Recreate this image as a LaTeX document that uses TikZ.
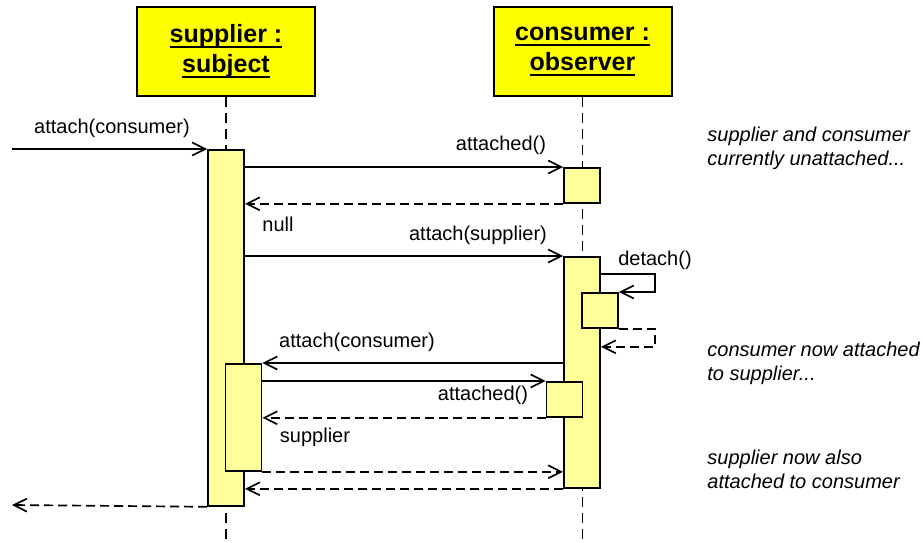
\documentclass[tikz,border=0pt]{standalone}
\usepackage{fontspec}
\setmainfont{Liberation Sans}
\usetikzlibrary{arrows.meta}
\definecolor{headfill}{RGB}{255,255,0}
\definecolor{barfill}{RGB}{255,255,153}
\newcommand{\hdline}[1]{\setbox0=\hbox{#1}\rlap{\copy0}\rule[-2.6pt]{\wd0}{1pt}}
\tikzset{
  head/.style={draw, fill=headfill, line width=1pt, minimum width=89pt, minimum height=44.5pt, align=center, font=\bfseries\fontsize{12.5}{15}\selectfont},
  bar/.style={draw, fill=barfill, line width=0.9pt, minimum width=18pt, inner sep=0pt, anchor=north},
  life/.style={line width=0.8pt, dash pattern=on 5pt off 3pt},
  call/.style={line width=0.85pt, -{Straight Barb[length=6.5pt,width=6.5pt]}},
  reply/.style={call, dash pattern=on 4.5pt off 2.5pt},
  msg/.style={font=\fontsize{10}{12}\selectfont},
  note/.style={font=\itshape\fontsize{10}{12}\selectfont, align=left, anchor=west, inner sep=0pt}
}
\begin{document}
\begin{tikzpicture}[x=0.5pt, y=-0.5pt]
\useasboundingbox (0,0) rectangle (923,542);

% objects and lifelines
\node[head] (sup) at (226,51.5) {\hdline{supplier :}\\\hdline{subject}};
\node[head] (con) at (582.5,51.5) {\hdline{consumer :}\\\hdline{observer}};
\coordinate (bot) at (0,542);
\draw[life] (sup.south) -- (sup.south |- bot);
\draw[life] (con.south) -- (con.south |- bot);

% activations
\node[bar, minimum height=178pt] (sa) at (226,149) {};
\node[bar, minimum height=17.5pt] (ca1) at (582,167) {};
\node[bar, minimum height=115.5pt] (cb) at (582,256) {};
\node[bar, minimum height=17.5pt] (cd) at (600,292) {};
\node[bar, minimum height=53.5pt] (sb) at (243.5,363) {};
\node[bar, minimum height=17.5pt] (ca2) at (564.5,381) {};

% messages
\coordinate (start) at (12,149);
\coordinate (stop) at (12,505);
\draw[call] (start) -- (sa.north west);
\draw[call] (sa.east |- ca1.north) -- (ca1.north west);
\draw[reply] (ca1.south west) -- (sa.east |- ca1.south);
\draw[call] (sa.east |- cb.north) -- (cb.north west);
\draw[call] ([yshift=-9pt]cb.north east) -- ++(27pt,0) |- (cd.north east);
\draw[reply] (cd.south east) -- ++(18pt,0) |- ([yshift=-9pt]cd.south -| cb.east);
\draw[call] (cb.west |- sb.north) -- (sb.north east);
\draw[call] (sb.east |- ca2.north) -- (ca2.north west);
\draw[reply] (ca2.south west) -- (sb.east |- ca2.south);
\draw[reply] (sb.south east) -- (cb.west |- sb.south);
\draw[reply] (cb.south west) -- (sa.east |- cb.south);
\draw[reply] (sa.south west) -- (stop);

% labels
\node[msg] (l1) at (112,128) {attach(consumer)};
\node[msg] (l2) at (501,145) {attached()};
\node[msg] (l3) at (278,224) {null};
\node[msg] (l4) at (478,235) {attach(supplier)};
\node[msg] (l5) at (655,260) {detach()};
\node[msg] (l6) at (357,342) {attach(consumer)};
\node[msg] (l7) at (483,395) {attached()};
\node[msg] (l8) at (315,437) {supplier};

% notes
\node[note] (n1) at (707,148) {supplier and consumer\\currently unattached...};
\node[note] (n2) at (707,363) {consumer now attached\\to supplier...};
\node[note] (n3) at (707,469) {supplier now also\\attached to consumer};
\end{tikzpicture}
\end{document}
